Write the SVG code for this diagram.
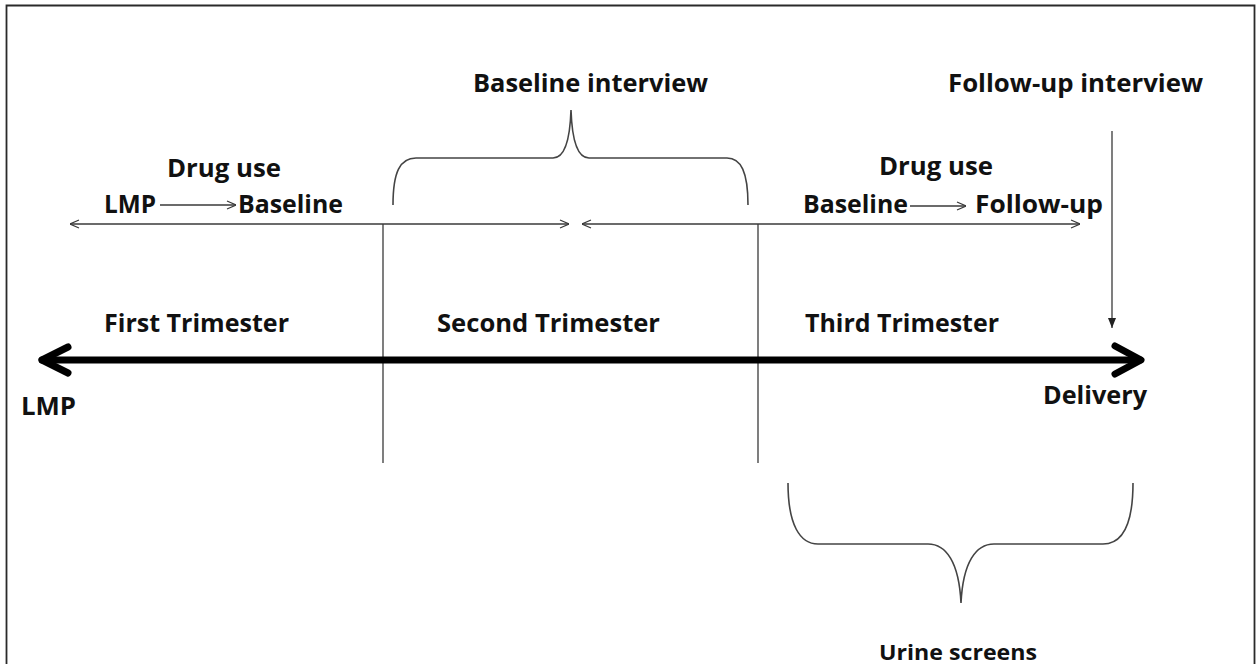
<svg xmlns="http://www.w3.org/2000/svg" width="1257" height="664" viewBox="0 0 1257 664">
<style>
text{font-family:"Open Sans","Liberation Sans",sans-serif;font-weight:700;font-size:25px;fill:#111}
.thin{stroke:#3a3a3a;stroke-width:1.3;fill:none}
.thick{stroke:#000;stroke-width:7;fill:none;stroke-linecap:round;stroke-linejoin:round}
.brace{stroke:#444;stroke-width:1.6;fill:none}
</style>
<defs>
<marker id="open" viewBox="0 0 10 10" refX="10" refY="5" markerWidth="10" markerHeight="10" markerUnits="userSpaceOnUse" orient="auto-start-reverse">
<path d="M1,1 L10,5 L1,9" fill="none" stroke="#3a3a3a" stroke-width="1.2"/>
</marker>
<marker id="tri" viewBox="0 0 10 10" refX="10" refY="5" markerWidth="10" markerHeight="10" markerUnits="userSpaceOnUse" orient="auto">
<path d="M0,1 L10,5 L0,9 Z" fill="#222"/>
</marker>
</defs>
<rect x="0" y="0" width="1257" height="664" fill="#fff"/>
<path d="M6.5,670 V5.5 H1254.5 V670" fill="none" stroke="#2a2a2a" stroke-width="1.8"/>

<g id="connectors">
<line class="thin" x1="70" y1="224" x2="569" y2="224" marker-start="url(#open)" marker-end="url(#open)"/>
<line class="thin" x1="582" y1="224" x2="1080" y2="224" marker-start="url(#open)" marker-end="url(#open)"/>
<line class="thin" x1="383" y1="224" x2="383" y2="463"/>
<line class="thin" x1="758" y1="224" x2="758" y2="463"/>
<line class="thin" x1="160" y1="205" x2="236" y2="205" marker-end="url(#open)"/>
<line class="thin" x1="910" y1="206" x2="966" y2="206" marker-end="url(#open)"/>
<line class="thin" x1="1112" y1="131" x2="1112" y2="328" marker-end="url(#tri)"/>
<line class="thick" x1="42" y1="360" x2="1140" y2="360"/>
<polyline class="thick" points="68,347 42,360 68,373"/>
<polyline class="thick" points="1115,346 1141,360 1115,374"/>
<path class="brace" d="M393,205 C393,172 400,158 416,158 L553,158 C565,158 570,140 571,110 C572,140 577,158 589,158 L727,158 C741,158 748,172 748,205"/>
<path class="brace" d="M788,483 C788,525 800,544 818,544 L928,544 C946,544 959,562 961,603 C963,562 976,544 994,544 L1103,544 C1122,544 1133,525 1133,483"/>
</g>

<g id="baseline-interview"><text x="473" y="92" textLength="235" lengthAdjust="spacingAndGlyphs">Baseline interview</text></g>
<g id="followup-interview"><text x="948" y="92" textLength="255" lengthAdjust="spacingAndGlyphs">Follow-up interview</text></g>
<g id="drug-use-1">
<text x="167" y="177" textLength="114" lengthAdjust="spacingAndGlyphs">Drug use</text>
<text x="104" y="213" textLength="52" lengthAdjust="spacingAndGlyphs">LMP</text>
<text x="238" y="213" textLength="105" lengthAdjust="spacingAndGlyphs">Baseline</text>
</g>
<g id="drug-use-2">
<text x="879" y="175" textLength="114" lengthAdjust="spacingAndGlyphs">Drug use</text>
<text x="803" y="213" textLength="105" lengthAdjust="spacingAndGlyphs">Baseline</text>
<text x="975" y="213" textLength="128" lengthAdjust="spacingAndGlyphs">Follow-up</text>
</g>
<g id="first-trimester"><text x="104" y="332" textLength="185" lengthAdjust="spacingAndGlyphs">First Trimester</text></g>
<g id="second-trimester"><text x="437" y="332" textLength="223" lengthAdjust="spacingAndGlyphs">Second Trimester</text></g>
<g id="third-trimester"><text x="805" y="332" textLength="194" lengthAdjust="spacingAndGlyphs">Third Trimester</text></g>
<g id="lmp"><text x="21" y="415" textLength="55" lengthAdjust="spacingAndGlyphs">LMP</text></g>
<g id="delivery"><text x="1043" y="404" textLength="104" lengthAdjust="spacingAndGlyphs">Delivery</text></g>
<g id="urine-screens"><text x="879" y="660" style="font-size:21px" textLength="158" lengthAdjust="spacingAndGlyphs">Urine screens</text></g>
</svg>
